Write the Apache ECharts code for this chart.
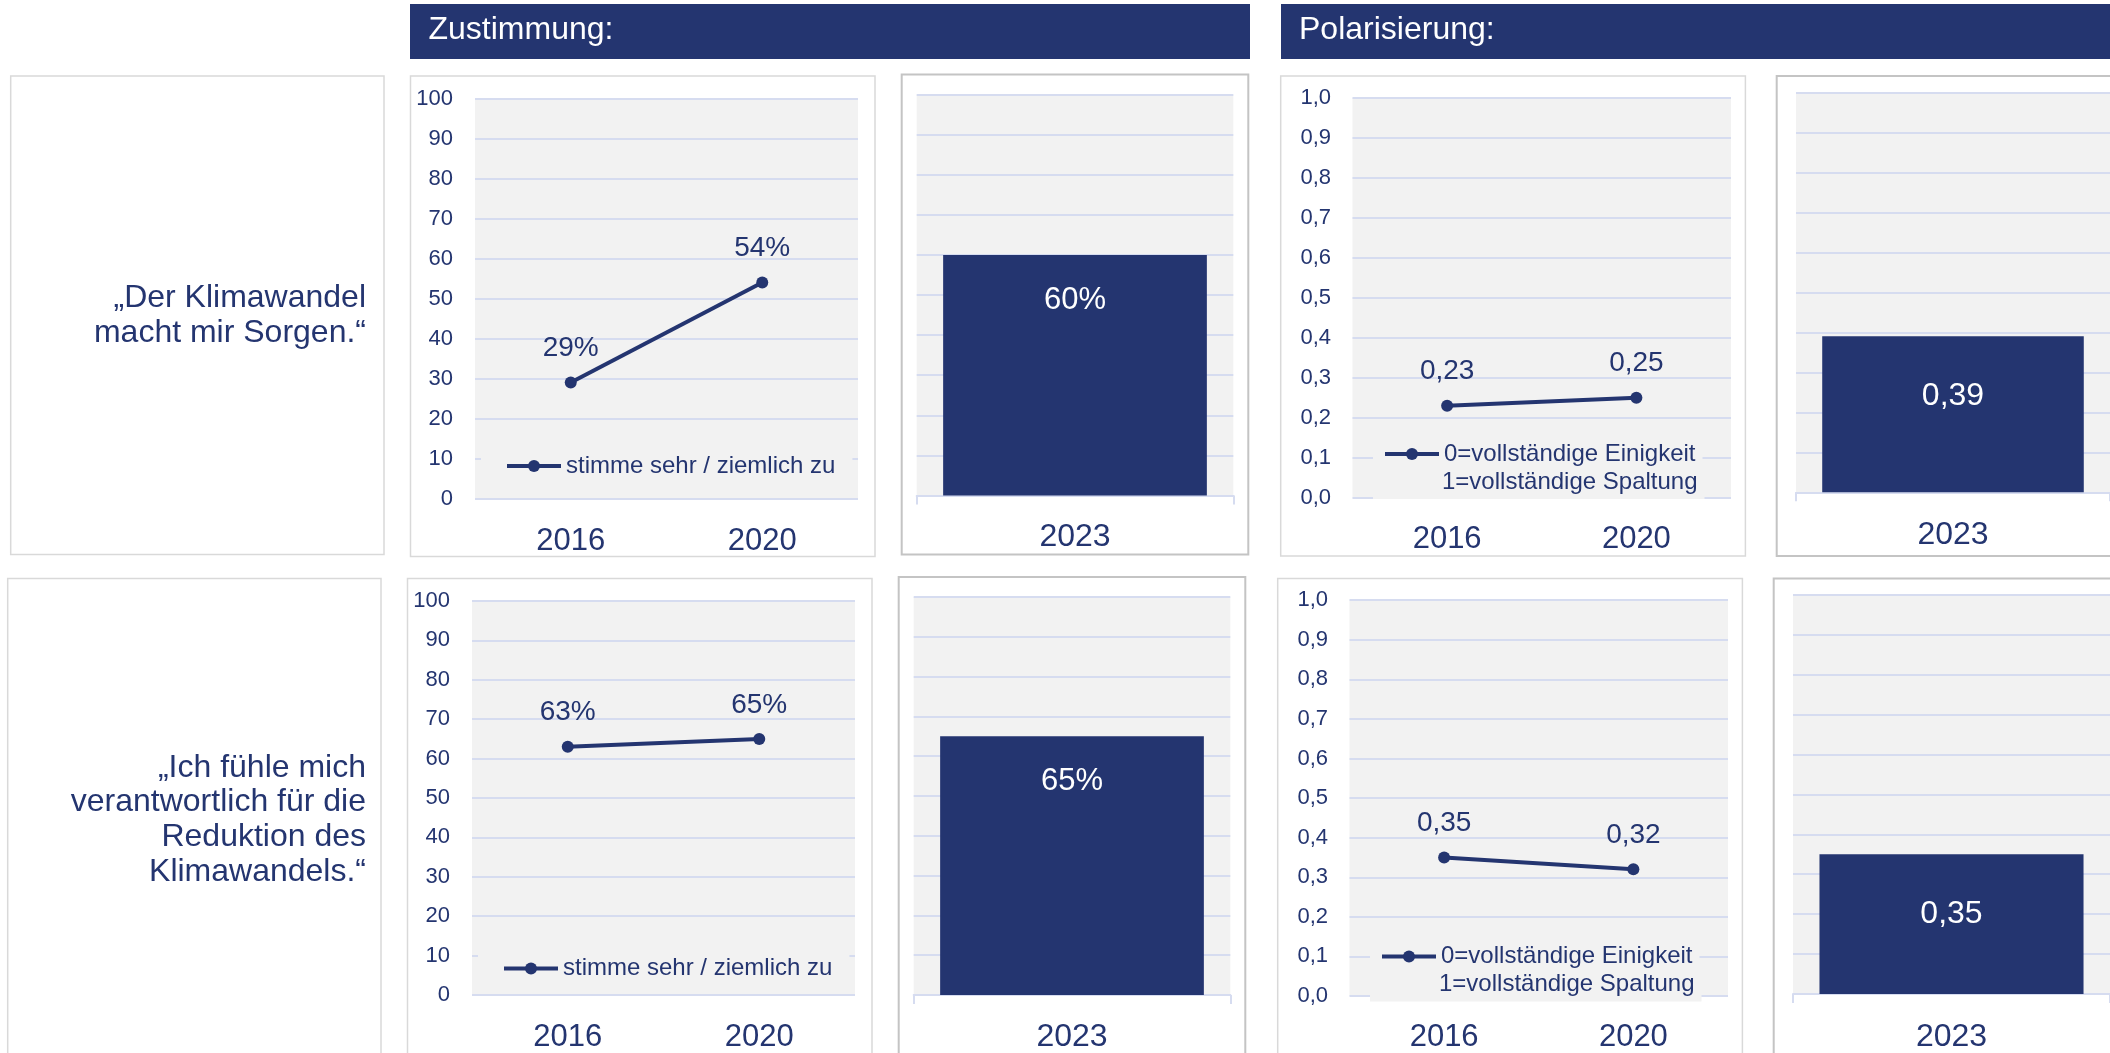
<!DOCTYPE html>
<html>
<head>
<meta charset="utf-8">
<title>Zustimmung und Polarisierung</title>
<script src="https://cdn.jsdelivr.net/npm/echarts@6/dist/echarts.min.js"></script>
<style>
  html, body { margin: 0; padding: 0; background: #fff; overflow: hidden; }
  #main { width: 2110px; height: 1053px; }
</style>
</head>
<body>
<div id="main"></div>
<script>
// categories
const lineYears = ["2016", "2020"]
const barYears = ["2023"]

// row texts
const headerTitles = ["Zustimmung:", "Polarisierung:"]
const statementSorgen = ["„Der Klimawandel", "macht mir Sorgen.“"]
const statementVerantwortung = ["„Ich fühle mich", "verantwortlich für die", "Reduktion des", "Klimawandels.“"]
const legendZustimmung = "stimme sehr / ziemlich zu"
const legendPolar = ["0=vollständige Einigkeit", "1=vollständige Spaltung"]

// values
const zustimmungSorgen = [29, 54]
const zustimmungSorgen2023 = [60]
const zustimmungVerantwortung = [63, 65]
const zustimmungVerantwortung2023 = [65]

const polarSorgen = [0.23, 0.25]
const polarSorgen2023 = [0.39]
const polarVerantwortung = [0.35, 0.32]
const polarVerantwortung2023 = [0.35]

const NAVY = "#243570"
const GRID_LINE = "#d6dcf0"
const PLOT_BG = "#f2f2f2"
const FONT = "'Liberation Sans', Arial, Helvetica, sans-serif"

const pct = v => v + "%"
const comma = digits => v => Number(v).toFixed(digits).replace(".", ",")

const rows = [
  {
    dx: 0, dy: 0, textY: 316,
    statement: statementSorgen,
    agree: zustimmungSorgen, agreeBar: zustimmungSorgen2023,
    polar: polarSorgen, polarBar: polarSorgen2023
  },
  {
    dx: -3, dy: 502.5, textY: 820,
    statement: statementVerantwortung,
    agree: zustimmungVerantwortung, agreeBar: zustimmungVerantwortung2023,
    polar: polarVerantwortung, polarBar: polarVerantwortung2023
  }
]

const grids = []
const xAxes = []
const yAxes = []
const series = []
const legends = []
const graphics = []

const panel = (x, y, w, h, stroke, lineWidth) => ({
  type: "rect",
  z: -5,
  silent: true,
  shape: { x, y, width: w, height: h },
  style: { fill: "#fff", stroke, lineWidth }
})

function addGrid(left, top, width, height) {
  grids.push({
    left, top, width, height,
    show: true,
    backgroundColor: PLOT_BG,
    borderWidth: 0
  })
  return grids.length - 1
}

function legendBox(name, left, top, padding, formatter, icon) {
  return {
    data: [icon ? { name, icon } : name],
    left, top, padding,
    formatter,
    backgroundColor: PLOT_BG,
    itemWidth: 54,
    itemHeight: 15,
    selectedMode: false,
    lineStyle: { width: 4, color: NAVY },
    itemStyle: { color: NAVY },
    textStyle: { fontSize: 24, color: NAVY, lineHeight: 28 }
  }
}

function addLineChart(cfg) {
  const i = addGrid(cfg.left, cfg.top, cfg.width, cfg.height)
  xAxes.push({
    gridIndex: i,
    type: "category",
    data: lineYears,
    axisLine: { show: false },
    axisTick: { show: false },
    axisLabel: { fontSize: 31, color: NAVY, margin: cfg.xMargin }
  })
  yAxes.push({
    gridIndex: i,
    type: "value",
    min: 0,
    max: cfg.max,
    interval: cfg.interval,
    axisLine: { show: false },
    axisTick: { show: false },
    axisLabel: { fontSize: 22, color: NAVY, margin: cfg.yMargin, formatter: cfg.tickFormat },
    splitLine: { lineStyle: { color: GRID_LINE, width: 2 } }
  })
  series.push({
    type: "line",
    name: cfg.name,
    xAxisIndex: i,
    yAxisIndex: i,
    data: cfg.values,
    symbol: "circle",
    symbolSize: 12,
    color: NAVY,
    lineStyle: { width: 4, color: NAVY },
    itemStyle: { color: NAVY },
    label: {
      show: true,
      position: "top",
      distance: 14,
      fontSize: 28,
      color: NAVY,
      formatter: p => cfg.labelFormat(p.value)
    },
    silent: true
  })
  cfg.legends.forEach(l => legends.push(legendBox(cfg.name, l.left, l.top, l.padding, l.formatter, l.icon)))
}

function addBarChart(cfg) {
  const i = addGrid(cfg.left, cfg.top, cfg.width, cfg.height)
  xAxes.push({
    gridIndex: i,
    type: "category",
    data: barYears,
    axisLine: { show: true, lineStyle: { color: GRID_LINE, width: 2 } },
    axisTick: { show: true, length: 9, lineStyle: { color: GRID_LINE, width: 2 } },
    axisLabel: { fontSize: 32, color: NAVY, margin: cfg.xMargin }
  })
  yAxes.push({
    gridIndex: i,
    type: "value",
    min: 0,
    max: cfg.max,
    interval: cfg.interval,
    axisLine: { show: false },
    axisTick: { show: false },
    axisLabel: { show: false },
    splitLine: { lineStyle: { color: GRID_LINE, width: 2 } }
  })
  series.push({
    type: "bar",
    name: cfg.name,
    xAxisIndex: i,
    yAxisIndex: i,
    data: cfg.values,
    barWidth: "83.3%",
    itemStyle: { color: NAVY },
    label: {
      show: true,
      position: "insideTop",
      distance: cfg.labelDistance,
      fontSize: cfg.labelSize,
      color: "#ffffff",
      formatter: p => cfg.labelFormat(p.value)
    },
    silent: true
  })
}

// headers
graphics.push({ type: "rect", silent: true, shape: { x: 410, y: 4, width: 840, height: 55 }, style: { fill: NAVY } })
graphics.push({ type: "rect", silent: true, shape: { x: 1281, y: 4, width: 860, height: 55 }, style: { fill: NAVY } })
graphics.push({
  type: "text", x: 428.5, y: 30, silent: true,
  style: { text: headerTitles[0], fill: "#ffffff", fontSize: 32, fontFamily: FONT, verticalAlign: "middle" }
})
graphics.push({
  type: "text", x: 1299, y: 30, silent: true,
  style: { text: headerTitles[1], fill: "#ffffff", fontSize: 32, fontFamily: FONT, verticalAlign: "middle" }
})

rows.forEach((row, r) => {
  const dx = row.dx
  const dy = row.dy

  // panels behind the charts
  graphics.push(panel(10.7 + dx, 76 + dy, 373.3, 478.5, "#d9d9d9", 1.5))
  graphics.push(panel(410.5 + dx, 76 + dy, 464.5, 480.5, "#d9d9d9", 1.5))
  graphics.push(panel(901.7 + dx, 74.5 + dy, 346.6, 480, "#c4c4c4", 2))
  graphics.push(panel(1280.7 + dx, 76 + dy, 464.7, 480, "#d9d9d9", 1.5))
  graphics.push(panel(1776.7 + dx, 76 + dy, 360, 480, "#c4c4c4", 2))

  graphics.push({
    type: "text",
    x: 366,
    y: row.textY,
    silent: true,
    style: {
      text: row.statement.join("\n"),
      fill: NAVY,
      fontSize: 32,
      lineHeight: 34.8,
      fontFamily: FONT,
      align: "right",
      verticalAlign: "middle"
    }
  })

  addLineChart({
    name: legendZustimmung,
    left: 475 + dx, top: 98.5 + dy, width: 383, height: 400,
    max: 100, interval: 10,
    values: row.agree,
    tickFormat: v => String(v),
    labelFormat: pct,
    xMargin: 27, yMargin: 22,
    legends: [{ left: 481 + dx, top: 442 + dy, padding: [10, 17, 10, 24] }]
  })

  addBarChart({
    name: "Zustimmung 2023 " + r,
    left: 916.7 + dx, top: 94.5 + dy, width: 316.6, height: 401,
    max: 100, interval: 10,
    values: row.agreeBar,
    labelFormat: pct,
    labelSize: 31,
    labelDistance: 30,
    xMargin: 26
  })

  addLineChart({
    name: legendPolar.join(" / "),
    left: 1352.5 + dx, top: 97.7 + dy, width: 378.5, height: 400,
    max: 1, interval: 0.1,
    values: row.polar,
    tickFormat: comma(1),
    labelFormat: comma(2),
    xMargin: 26, yMargin: 21.5,
    legends: [
      { left: 1373 + dx, top: 432 + dy, padding: [8, 7, 2, 10], formatter: () => legendPolar[0] },
      { left: 1373 + dx, top: 466 + dy, padding: [2, 7, 3, 10], formatter: () => legendPolar[1], icon: "none" }
    ]
  })

  addBarChart({
    name: "Polarisierung 2023 " + r,
    left: 1796 + dx, top: 92.3 + dy, width: 317, height: 400,
    max: 1, interval: 0.1,
    values: row.polarBar,
    labelFormat: comma(2),
    labelSize: 32,
    labelDistance: 44,
    xMargin: 27
  })
})

const chart = echarts.init(document.getElementById("main"))
chart.setOption({
  animation: false,
  backgroundColor: "#ffffff",
  textStyle: { fontFamily: FONT },
  graphic: { elements: graphics },
  grid: grids,
  xAxis: xAxes,
  yAxis: yAxes,
  legend: legends,
  series: series
})

window.addEventListener("resize", chart.resize)
</script>
</body>
</html>
